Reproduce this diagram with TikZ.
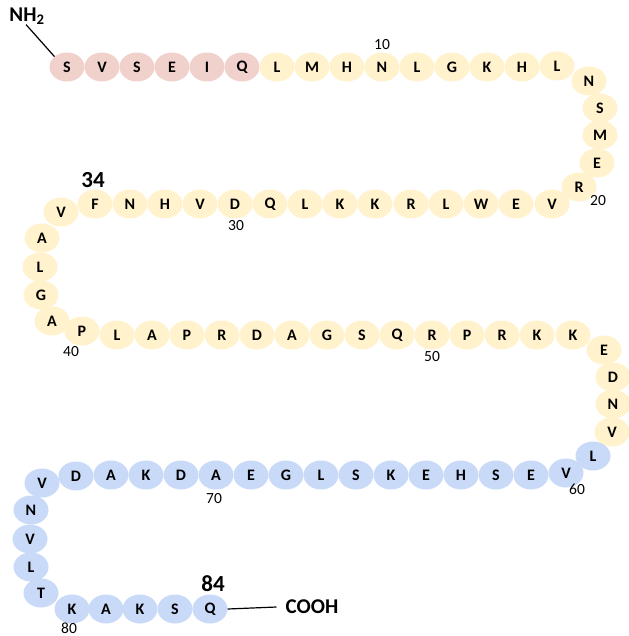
\documentclass[tikz,border=0pt]{standalone}
\usepackage{fontspec}
\setmainfont{Carlito}
\usetikzlibrary{shapes.geometric}
\definecolor{rpink}{RGB}{241,209,204}
\definecolor{ryellow}{RGB}{255,242,204}
\definecolor{rblue}{RGB}{201,218,248}
\tikzset{
  res/.style={ellipse, minimum width=35pt, minimum height=29pt, inner sep=0pt, draw=none,
    font=\fontsize{16}{18}\selectfont\bfseries},
  pinkres/.style={res, fill=rpink},
  yellowres/.style={res, fill=ryellow},
  blueres/.style={res, fill=rblue},
  numlab/.style={inner sep=0pt, font=\fontsize{15.5}{18}\selectfont},
  biglab/.style={inner sep=0pt, font=\fontsize{23}{26}\selectfont\bfseries},
  termlab/.style={inner sep=0pt, font=\fontsize{21}{24}\selectfont\bfseries},
  link/.style={draw=black, line width=1.2pt}
}
\begin{document}
\begin{tikzpicture}[x=1pt,y=-1pt]
\useasboundingbox (0,0) rectangle (628,636);
% residues
\foreach \n/\l/\x/\y/\s in {
 1/S/67/67/pinkres, 2/V/102/67/pinkres, 3/S/137/67/pinkres, 4/E/172/67/pinkres,
 5/I/207/67/pinkres, 6/Q/242/67/pinkres,
 7/L/277/67/yellowres, 8/M/312/67/yellowres, 9/H/347/67/yellowres, 10/N/382/67/yellowres,
 11/L/417/67/yellowres, 12/G/452/67/yellowres, 13/K/487/67/yellowres, 14/H/522/67/yellowres,
 15/L/557/66/yellowres, 16/N/589/81/yellowres, 17/S/600/108/yellowres, 18/M/600/135/yellowres,
 19/E/597/163/yellowres, 20/R/579/187/yellowres,
 21/V/552/204/yellowres, 22/E/516/204/yellowres, 23/W/481/204/yellowres, 24/L/446/204/yellowres,
 25/R/411/204/yellowres, 26/K/375/204/yellowres, 27/K/340/204/yellowres, 28/L/305/204/yellowres,
 29/Q/270/204/yellowres, 30/D/235/204/yellowres, 31/V/200/204/yellowres, 32/H/165/204/yellowres,
 33/N/130/204/yellowres, 34/F/95/204/yellowres,
 35/V/61/212/yellowres, 36/A/42/238/yellowres, 37/L/40/267/yellowres, 38/G/41/295/yellowres,
 39/A/52/321/yellowres, 40/P/82/331/yellowres,
 41/L/117/335/yellowres, 42/A/152/335/yellowres, 43/P/187/335/yellowres, 44/R/222/335/yellowres,
 45/D/257/335/yellowres, 46/A/292/335/yellowres, 47/G/327/335/yellowres, 48/S/362/335/yellowres,
 49/Q/397/335/yellowres, 50/R/432/335/yellowres, 51/P/467/335/yellowres, 52/R/502/335/yellowres,
 53/K/537/335/yellowres, 54/K/573/335/yellowres,
 55/E/604/350/yellowres, 56/D/613/377/yellowres, 57/N/613/404/yellowres, 58/V/612/432/yellowres,
 59/L/593/456/blueres, 60/V/566/473/blueres,
 61/E/531/475/blueres, 62/S/496/475/blueres, 63/H/461/475/blueres, 64/E/426/475/blueres,
 65/K/391/475/blueres, 66/S/356/475/blueres, 67/L/321/475/blueres, 68/G/286/475/blueres,
 69/E/251/475/blueres, 70/A/216/475/blueres, 71/D/181/475/blueres, 72/K/146/475/blueres,
 73/A/111/475/blueres, 74/D/76/476/blueres,
 75/V/42/483/blueres, 76/N/31/510/blueres, 77/V/30/539/blueres, 78/L/31/567/blueres,
 79/T/41/593/blueres,
 80/K/72/609/blueres, 81/A/106/609/blueres, 82/K/140/609/blueres, 83/S/175/609/blueres,
 84/Q/210/609/blueres}
 { \node[\s] (r\n) at (\x,\y) {\l}; }
% position numbers
\node[numlab] (n10) at (382,45) {10};
\node[numlab] (n20) at (598,201) {20};
\node[numlab] (n30) at (236,226) {30};
\node[numlab] (n40) at (71,352) {40};
\node[numlab] (n50) at (432,357) {50};
\node[numlab] (n60) at (577,489) {60};
\node[numlab] (n70) at (214,499) {70};
\node[numlab] (n80) at (69,628) {80};
\node[biglab] (n34) at (93,180) {34};
\node[biglab] (n84) at (213,584) {84};
% termini
\node[termlab] (nh2) at (27,16) {NH\textsubscript{2}};
\node[termlab] (cooh) at (312,607) {COOH};
\draw[link] ([xshift=-1pt]nh2.south) -- (r1.north west);
\draw[link] (r84.east) -- ([xshift=-9pt]cooh.west);
\end{tikzpicture}
\end{document}
